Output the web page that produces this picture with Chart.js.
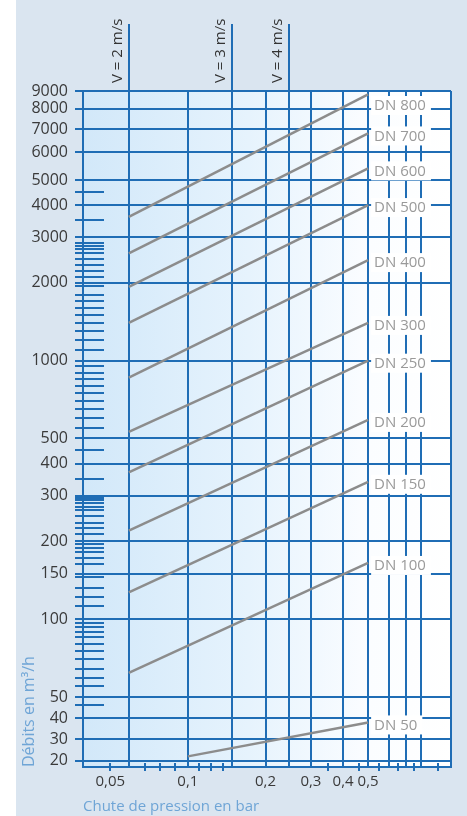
<!DOCTYPE html>
<html lang="fr">
<head>
<meta charset="utf-8">
<title>Débits et chute de pression</title>
<script src="https://cdn.jsdelivr.net/npm/chart.js@4.4.1/dist/chart.umd.min.js"></script>
<style>
  html, body { margin: 0; padding: 0; background: #dae5f0; }
  #wrap { width: 467px; height: 816px; position: relative; }
</style>
</head>
<body>
<div id="wrap"><canvas id="c" width="467" height="816"></canvas></div>
<script>
// Nominal diameters: pressure drop (bar) and flow (m³/h) at both ends of each line
const dnLabels  = ['DN 800', 'DN 700', 'DN 600', 'DN 500', 'DN 400', 'DN 300', 'DN 250', 'DN 200', 'DN 150', 'DN 100', 'DN 50'];
const dropStart = [0.059, 0.059, 0.059, 0.059, 0.059, 0.059, 0.059, 0.059, 0.059, 0.059, 0.1];
const dropEnd   = [0.5, 0.5, 0.5, 0.5, 0.5, 0.5, 0.5, 0.5, 0.5, 0.5, 0.5];
const flowStart = [3600, 2600, 1930, 1400, 860, 530, 370, 220, 127, 62, 22];
const flowEnd   = [8800, 6800, 5400, 4000, 2450, 1400, 1000, 590, 340, 165, 38];

// Flow velocity reference lines
const velocityLabels = ['V = 2 m/s', 'V = 3 m/s', 'V = 4 m/s'];
const velocityDrop   = [0.059, 0.148, 0.247];

// Axis ticks
const yTickValues = [20, 30, 40, 50, 100, 150, 200, 300, 400, 500, 1000, 2000, 3000, 4000, 5000, 6000, 7000, 8000, 9000];
const yMinorTicks = [46, 55, 59, 64, 70, 75, 80, 85, 89, 93, 97, 112, 122, 132, 145, 163, 173, 182, 189, 195,
                     213, 226, 236, 251, 264, 272, 281, 288, 294, 350, 450, 550, 600, 650, 700, 750, 800, 850, 900, 950,
                     1100, 1200, 1300, 1400, 1500, 1600, 1700, 1800, 1950, 2100, 2230, 2350, 2470, 2620, 2700, 2780, 2860,
                     3500, 4500];
const xTickValues = [0.05, 0.1, 0.2, 0.3, 0.4, 0.5];
const xTickLabels = ['0,05', '0,1', '0,2', '0,3', '0,4', '0,5'];
const xGridValues = [0.1, 0.2, 0.3, 0.4, 0.5, 0.6, 0.7, 0.8];
const xMinorTicks = [0.05, 0.068, 0.078, 0.089, 0.11, 0.123, 0.137, 0.35, 0.46, 0.55, 0.65, 0.75, 0.93];

// The flow axis of this nomogram is drawn in bands: linear at the foot,
// logarithmic in the body, and a stretched logarithmic band at the top.
const yMin = 17, yMax = 9000;
const yBands = [
  { to: 50,   kind: 'linear', weight: 70 },
  { to: 5000, kind: 'log',    weight: 517 },
  { to: 9000, kind: 'log',    weight: 89 }
];

class BandedLogScale extends Chart.LogarithmicScale {
  static id = 'bandedLog';
  static defaults = {};

  valueToDecimal(v) {
    const total = yBands.reduce((s, b) => s + b.weight, 0);
    let lo = this.min, acc = 0;
    for (let i = 0; i < yBands.length; i++) {
      const b = yBands[i];
      if (v <= b.to || i === yBands.length - 1) {
        const f = b.kind === 'log'
          ? (Math.log10(v) - Math.log10(lo)) / (Math.log10(b.to) - Math.log10(lo))
          : (v - lo) / (b.to - lo);
        return (acc + f * b.weight) / total;
      }
      acc += b.weight;
      lo = b.to;
    }
    return 1;
  }

  decimalToValue(d) {
    const total = yBands.reduce((s, b) => s + b.weight, 0);
    let pos = d * total, lo = this.min;
    for (let i = 0; i < yBands.length; i++) {
      const b = yBands[i];
      if (pos <= b.weight || i === yBands.length - 1) {
        const f = pos / b.weight;
        return b.kind === 'log'
          ? Math.pow(10, Math.log10(lo) + f * (Math.log10(b.to) - Math.log10(lo)))
          : lo + f * (b.to - lo);
      }
      pos -= b.weight;
      lo = b.to;
    }
    return this.max;
  }

  getPixelForValue(value) {
    if (value === null || value === undefined || isNaN(value)) return NaN;
    return this.getPixelForDecimal(this.valueToDecimal(value));
  }

  getValueForPixel(pixel) {
    return this.decimalToValue(this.getDecimalForPixel(pixel));
  }
}
Chart.register(BandedLogScale);

const BLUE = '#1f6db5';
const TEXT = '#3a3a3a';
const TITLE = '#6fa5d6';
const FONT = "'Open Sans', 'Noto Sans', sans-serif";
Chart.defaults.font.family = FONT;

const xTicksAll = Array.from(new Set([...xTickValues, ...xGridValues])).sort((a, b) => a - b);

// Page and plot backgrounds
const backdrop = {
  id: 'backdrop',
  beforeDraw(chart) {
    const { ctx, chartArea: a, width, height } = chart;
    ctx.save();
    ctx.fillStyle = '#dae5f0';
    ctx.fillRect(0, 0, width, height);
    ctx.fillStyle = '#ffffff';
    ctx.fillRect(0, 0, 16, height);
    const g = ctx.createLinearGradient(a.left, 0, a.right, 0);
    g.addColorStop(0, '#d2e8f9');
    g.addColorStop(0.45, '#e6f3fd');
    g.addColorStop(0.78, '#fbfdff');
    g.addColorStop(1, '#ffffff');
    ctx.fillStyle = g;
    ctx.fillRect(a.left, a.top, a.right - a.left, a.bottom - a.top);
    ctx.restore();
  }
};

// Velocity lines, minor ticks and the right-hand frame
const guides = {
  id: 'guides',
  beforeDatasetsDraw(chart) {
    const { ctx, chartArea: a } = chart;
    const xs = chart.scales.x, ys = chart.scales.y;
    ctx.save();
    ctx.strokeStyle = BLUE;
    ctx.lineWidth = 2;
    ctx.beginPath();
    yMinorTicks.forEach(v => {
      const y = Math.round(ys.getPixelForValue(v));
      ctx.moveTo(a.left - 8, y);
      ctx.lineTo(a.left + 21, y);
    });
    xMinorTicks.forEach(v => {
      const x = Math.round(xs.getPixelForValue(v));
      ctx.moveTo(x, a.bottom - 4);
      ctx.lineTo(x, a.bottom + 4);
    });
    ctx.moveTo(a.right, a.top);
    ctx.lineTo(a.right, a.bottom);
    velocityDrop.forEach(v => {
      const x = Math.round(xs.getPixelForValue(v));
      ctx.moveTo(x, 24);
      ctx.lineTo(x, a.bottom);
    });
    ctx.stroke();

    ctx.fillStyle = '#333333';
    ctx.font = '15px ' + FONT;
    ctx.textAlign = 'left';
    ctx.textBaseline = 'middle';
    velocityDrop.forEach((v, i) => {
      const x = xs.getPixelForValue(v);
      ctx.save();
      ctx.translate(x - 11, 83);
      ctx.rotate(-Math.PI / 2);
      ctx.fillText(velocityLabels[i], 0, 0);
      ctx.restore();
    });
    ctx.restore();
  }
};

// Diameter tags at the end of each line
const tags = {
  id: 'tags',
  afterDatasetsDraw(chart) {
    const { ctx, chartArea: a } = chart;
    const xs = chart.scales.x, ys = chart.scales.y;
    ctx.save();
    ctx.font = '15px ' + FONT;
    ctx.textAlign = 'left';
    ctx.textBaseline = 'middle';
    dnLabels.forEach((label, i) => {
      const x = xs.getPixelForValue(dropEnd[i]);
      const y = Math.max(ys.getPixelForValue(flowEnd[i]) + 2, a.top + 14);
      const w = ctx.measureText(label).width;
      ctx.fillStyle = '#ffffff';
      ctx.fillRect(x + 3, y - 9, w + 8, 19);
      ctx.fillStyle = '#9a9a9a';
      ctx.fillText(label, x + 6, y + 1);
    });
    ctx.restore();
  }
};

const datasets = dnLabels.map((label, i) => ({
  label,
  data: [{ x: dropStart[i], y: flowStart[i] }, { x: dropEnd[i], y: flowEnd[i] }],
  borderColor: '#8c8c8c',
  borderWidth: 2.5,
  pointRadius: 0,
  fill: false,
  tension: 0
}));

new Chart(document.getElementById('c'), {
  type: 'line',
  data: { datasets },
  options: {
    responsive: false,
    animation: false,
    events: [],
    layout: { padding: { left: 0, top: 91, right: 16, bottom: 0 } },
    plugins: { legend: { display: false }, tooltip: { enabled: false } },
    scales: {
      x: {
        type: 'logarithmic',
        min: 0.0392,
        max: 1.048,
        afterBuildTicks: s => { s.ticks = xTicksAll.map(v => ({ value: v })); },
        afterFit: s => { s.height = 49; },
        ticks: {
          autoSkip: false,
          maxRotation: 0,
          padding: 6,
          color: TEXT,
          font: { size: 15 },
          callback: v => {
            const k = xTickValues.indexOf(v);
            return k >= 0 ? xTickLabels[k] : '';
          }
        },
        grid: {
          drawTicks: false,
          lineWidth: 2,
          color: c => (c.tick && xGridValues.includes(c.tick.value)) ? BLUE : 'rgba(0,0,0,0)'
        },
        border: { display: true, color: BLUE, width: 2 },
        title: {
          display: true,
          text: 'Chute de pression en bar',
          align: 'start',
          color: TITLE,
          font: { size: 15 },
          padding: { top: 0, bottom: 0 }
        }
      },
      y: {
        type: 'bandedLog',
        min: yMin,
        max: yMax,
        afterBuildTicks: s => { s.ticks = yTickValues.map(v => ({ value: v })); },
        afterFit: s => { s.width = 83; },
        ticks: {
          autoSkip: false,
          padding: 7,
          color: TEXT,
          font: { size: 16 },
          callback: v => String(v)
        },
        grid: { drawTicks: true, tickLength: 8, lineWidth: 2, color: BLUE },
        border: { display: true, color: BLUE, width: 2 },
        title: {
          display: true,
          text: 'Débits en m³/h',
          align: 'start',
          color: TITLE,
          font: { size: 16 },
          padding: { top: 20, bottom: 0 }
        }
      }
    }
  },
  plugins: [backdrop, guides, tags]
});
</script>
</body>
</html>
